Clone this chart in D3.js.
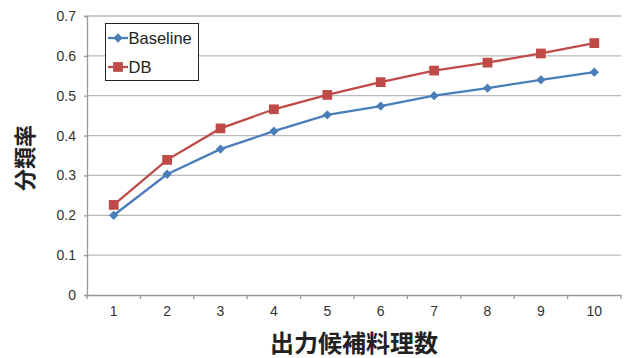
<!DOCTYPE html>
<html>
<head>
<meta charset="utf-8">
<script src="https://cdn.jsdelivr.net/npm/d3@7"></script>
<style>
  html, body { margin: 0; padding: 0; background: #fff; }
  svg { display: block; }
</style>
</head>
<body>
<svg id="chart" width="629" height="358"></svg>
<script>
// Number of candidate dishes shown (x categories)
const categories = [1, 2, 3, 4, 5, 6, 7, 8, 9, 10];
// Classification rate per series
const baselineValues = [0.200, 0.303, 0.366, 0.411, 0.452, 0.474, 0.500, 0.519, 0.540, 0.559];
const dbValues = [0.226, 0.339, 0.418, 0.466, 0.502, 0.534, 0.563, 0.583, 0.606, 0.632];
const yTicks = [0, 0.1, 0.2, 0.3, 0.4, 0.5, 0.6, 0.7];
const seriesNames = ["Baseline", "DB"];

const svg = d3.select("#chart");
const margin = { left: 87, right: 8, top: 16, bottom: 63 };
const W = 629, H = 358;
const x0 = margin.left, x1 = W - margin.right;
const y0 = H - margin.bottom, y1 = margin.top;

const x = d3.scaleBand().domain(categories).range([x0, x1]);
const y = d3.scaleLinear().domain([0, 0.7]).range([y0, y1]);

const font = "'Liberation Sans', Arial, sans-serif";
const cjk = "'Noto Sans CJK JP', sans-serif";

// Horizontal gridlines
svg.append("g").selectAll("line").data(yTicks.slice(1)).join("line")
  .attr("x1", x0).attr("x2", x1)
  .attr("y1", d => y(d)).attr("y2", d => y(d))
  .attr("stroke", "#b9b9b9").attr("stroke-width", 1.3);

// Y axis
const yAxis = svg.append("g").attr("transform", `translate(${x0},0)`)
  .call(d3.axisLeft(y).tickValues(yTicks).tickSize(3).tickPadding(8)
    .tickFormat(d => d === 0 ? "0" : d3.format(".1f")(d)));
yAxis.select(".domain").attr("stroke", "#999").attr("stroke-width", 1.3);
yAxis.selectAll(".tick line").attr("stroke", "#999").attr("stroke-width", 1.3);
yAxis.selectAll("text").attr("font-family", font).attr("font-size", 14).attr("fill", "#333");

// X axis with ticks at category boundaries
const xAxis = svg.append("g").attr("transform", `translate(0,${y0})`)
  .call(d3.axisBottom(x).tickSize(0).tickPadding(11));
xAxis.select(".domain").attr("stroke", "#999").attr("stroke-width", 1.3);
xAxis.selectAll("text").attr("font-family", font).attr("font-size", 14).attr("fill", "#333");
const bounds = categories.map(c => x(c)).concat([x1]);
xAxis.append("g").selectAll("line").data(bounds).join("line")
  .attr("x1", d => d).attr("x2", d => d).attr("y1", 0).attr("y2", 4)
  .attr("stroke", "#999").attr("stroke-width", 1.3);

// Series lines and markers
const cx = c => x(c) + x.bandwidth() / 2;
const series = [
  { name: seriesNames[0], values: baselineValues, color: "#4a7ebb", symbol: "diamond" },
  { name: seriesNames[1], values: dbValues, color: "#be4b48", symbol: "square" }
];
const line = d3.line().x((d, i) => cx(categories[i])).y(d => y(d));
const diamond = d3.symbol().type(d3.symbolDiamond2).size(55);
const square = d3.symbol().type(d3.symbolSquare).size(95);

series.forEach(s => {
  svg.append("path").datum(s.values)
    .attr("d", line).attr("fill", "none")
    .attr("stroke", s.color).attr("stroke-width", 2.3);
  svg.append("g").selectAll("path").data(s.values).join("path")
    .attr("transform", (d, i) => `translate(${cx(categories[i])},${y(d)})`)
    .attr("d", s.symbol === "diamond" ? diamond() : square())
    .attr("fill", s.color);
});

// Legend
const lg = svg.append("g");
lg.append("rect").attr("x", 105.5).attr("y", 23.5).attr("width", 93).attr("height", 57)
  .attr("fill", "#fff").attr("stroke", "#222").attr("stroke-width", 1);
series.forEach((s, i) => {
  const ly = 38 + i * 29;
  lg.append("line").attr("x1", 108).attr("x2", 128).attr("y1", ly).attr("y2", ly)
    .attr("stroke", s.color).attr("stroke-width", 2.3);
  lg.append("path").attr("transform", `translate(118,${ly})`)
    .attr("d", s.symbol === "diamond" ? diamond() : square()).attr("fill", s.color);
  lg.append("text").attr("x", 128.5).attr("y", ly + 6)
    .attr("font-family", font).attr("font-size", 16.5).attr("fill", "#222")
    .text(s.name);
});

// Axis titles
svg.append("text").attr("x", 354).attr("y", 352)
  .attr("text-anchor", "middle").attr("font-family", cjk).attr("font-weight", "bold")
  .attr("font-size", 24).attr("fill", "#222").text("出力候補料理数");
svg.append("text").attr("transform", "translate(33,158) rotate(-90)")
  .attr("text-anchor", "middle").attr("font-family", cjk).attr("font-weight", "bold")
  .attr("font-size", 22).attr("fill", "#222").text("分類率");
</script>
</body>
</html>
